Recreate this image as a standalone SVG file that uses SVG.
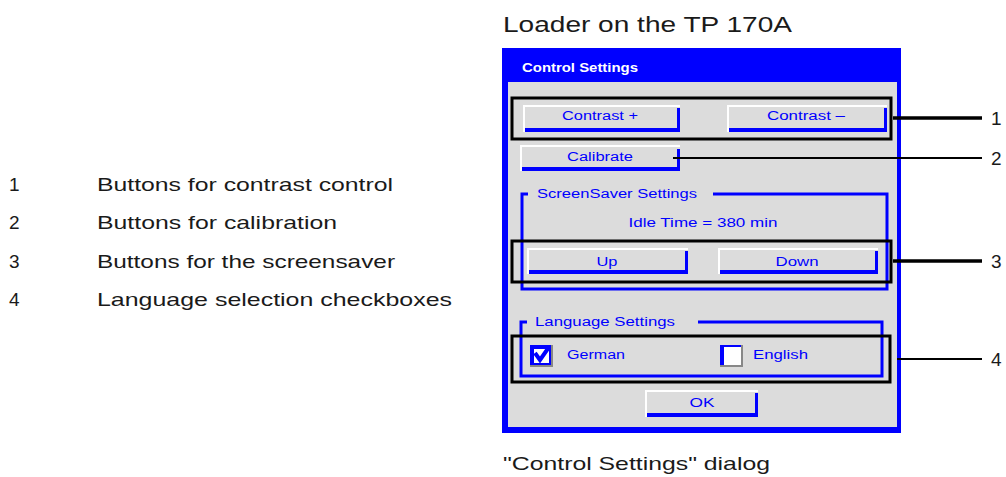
<svg xmlns="http://www.w3.org/2000/svg" width="1006" height="477" viewBox="0 0 1006 477">
<style>
.lbl{font-family:"Liberation Sans",Arial,sans-serif;fill:#1a1a1a}
.ui{font-family:"Liberation Sans",Arial,sans-serif;font-size:12px;fill:#0000ff}
.hi{fill:#ffffff}
.sh{fill:#0000ff}
.box{fill:none;stroke:#000;stroke-width:3}
.grp{fill:none;stroke:#0000ff;stroke-width:3}
.lead{stroke:#000;fill:none}
</style>
<rect width="1006" height="477" fill="#ffffff"/>
<g id="title"><text class="lbl" x="503" y="32" font-size="22" textLength="289" lengthAdjust="spacingAndGlyphs">Loader on the TP 170A</text></g>
<g id="legend">
<text class="lbl" x="9" y="191" font-size="19">1</text>
<text class="lbl" x="97" y="191" font-size="19" textLength="296" lengthAdjust="spacingAndGlyphs">Buttons for contrast control</text>
<text class="lbl" x="9" y="229" font-size="19">2</text>
<text class="lbl" x="97" y="229" font-size="19" textLength="240" lengthAdjust="spacingAndGlyphs">Buttons for calibration</text>
<text class="lbl" x="9" y="268" font-size="19">3</text>
<text class="lbl" x="97" y="268" font-size="19" textLength="298" lengthAdjust="spacingAndGlyphs">Buttons for the screensaver</text>
<text class="lbl" x="9" y="306" font-size="19">4</text>
<text class="lbl" x="97" y="306" font-size="19" textLength="355" lengthAdjust="spacingAndGlyphs">Language selection checkboxes</text>
</g>
<g id="dialog">
<rect x="502" y="48" width="399" height="385" fill="#0000ff"/>
<rect x="508" y="82" width="389" height="345" fill="#dcdcdc"/>
<text x="522" y="72" font-family="Liberation Sans,Arial,sans-serif" font-weight="bold" font-size="12" fill="#ffffff" textLength="116" lengthAdjust="spacingAndGlyphs">Control Settings</text>
</g>
<g id="btn-contrast-plus">
<rect class="hi" x="523" y="105" width="157" height="2"/><rect class="hi" x="523" y="105" width="2" height="27"/>
<rect class="sh" x="525" y="128" width="155" height="4"/><rect class="sh" x="677" y="108" width="3" height="24"/>
<text class="ui" x="600" y="120" text-anchor="middle" textLength="76" lengthAdjust="spacingAndGlyphs">Contrast +</text>
</g>
<g id="btn-contrast-minus">
<rect class="hi" x="727" y="105" width="160" height="2"/><rect class="hi" x="727" y="105" width="2" height="27"/>
<rect class="sh" x="729" y="128" width="158" height="4"/><rect class="sh" x="884" y="108" width="3" height="24"/>
<text class="ui" x="806" y="120" text-anchor="middle" textLength="78" lengthAdjust="spacingAndGlyphs">Contrast –</text>
</g>
<g id="btn-calibrate">
<rect class="hi" x="520" y="145" width="160" height="2"/><rect class="hi" x="520" y="145" width="2" height="26"/>
<rect class="sh" x="522" y="167" width="158" height="4"/><rect class="sh" x="677" y="149" width="3" height="22"/>
<text class="ui" x="600" y="161" text-anchor="middle" textLength="66" lengthAdjust="spacingAndGlyphs">Calibrate</text>
</g>
<g id="grp-screensaver">
<path class="grp" d="M528,194 H522 V289 H887 V194 H713"/>
<text class="ui" x="537" y="198" textLength="160" lengthAdjust="spacingAndGlyphs">ScreenSaver Settings</text>
<text class="ui" x="703" y="227" text-anchor="middle" textLength="149" lengthAdjust="spacingAndGlyphs">Idle Time = 380 min</text>
</g>
<g id="btn-up">
<rect class="hi" x="527" y="248" width="161" height="2"/><rect class="hi" x="527" y="248" width="2" height="26"/>
<rect class="sh" x="529" y="270" width="159" height="4"/><rect class="sh" x="685" y="251" width="3" height="23"/>
<text class="ui" x="607" y="266" text-anchor="middle" textLength="21" lengthAdjust="spacingAndGlyphs">Up</text>
</g>
<g id="btn-down">
<rect class="hi" x="718" y="248" width="160" height="2"/><rect class="hi" x="718" y="248" width="2" height="26"/>
<rect class="sh" x="720" y="270" width="158" height="4"/><rect class="sh" x="875" y="251" width="3" height="23"/>
<text class="ui" x="797" y="266" text-anchor="middle" textLength="43" lengthAdjust="spacingAndGlyphs">Down</text>
</g>
<g id="grp-language">
<path class="grp" d="M527,322 H521 V376 H882 V322 H698"/>
<text class="ui" x="535" y="326" textLength="140" lengthAdjust="spacingAndGlyphs">Language Settings</text>
</g>
<g id="chk-german">
<rect x="530" y="345" width="23" height="22" fill="#888888"/>
<rect x="530" y="345" width="21" height="20" fill="#0000ff"/>
<rect x="534" y="349" width="15" height="14" fill="#ffffff"/>
<path d="M535,353 L540,360 L549,347" fill="none" stroke="#0000ff" stroke-width="4"/>
<text class="ui" x="567" y="359" textLength="58" lengthAdjust="spacingAndGlyphs">German</text>
</g>
<g id="chk-english">
<rect x="720" y="345" width="23" height="22" fill="#888888"/>
<rect x="720" y="345" width="21" height="20" fill="#0000ff"/>
<rect x="724" y="347" width="17" height="18" fill="#ffffff"/>
<text class="ui" x="753" y="359" textLength="55" lengthAdjust="spacingAndGlyphs">English</text>
</g>
<g id="btn-ok">
<rect class="hi" x="645" y="390" width="113" height="2"/><rect class="hi" x="645" y="390" width="2" height="27"/>
<rect class="sh" x="647" y="413" width="111" height="4"/><rect class="sh" x="755" y="393" width="3" height="24"/>
<text class="ui" x="702" y="407" text-anchor="middle" textLength="25" lengthAdjust="spacingAndGlyphs">OK</text>
</g>
<g id="highlight-boxes">
<rect class="box" x="512" y="98" width="379" height="41"/>
<rect class="box" x="512" y="241" width="379" height="41"/>
<rect class="box" x="512" y="336" width="378" height="46"/>
</g>
<g id="connectors">
<line class="lead" x1="893" y1="118" x2="982" y2="118" stroke-width="3.5"/>
<line class="lead" x1="673" y1="158" x2="982" y2="158" stroke-width="2"/>
<line class="lead" x1="893" y1="261" x2="982" y2="261" stroke-width="3.5"/>
<line class="lead" x1="897" y1="359" x2="982" y2="359" stroke-width="2"/>
</g>
<g id="callouts">
<text class="lbl" x="991" y="125" font-size="19">1</text>
<text class="lbl" x="991" y="165" font-size="19">2</text>
<text class="lbl" x="991" y="268" font-size="19">3</text>
<text class="lbl" x="991" y="366" font-size="19">4</text>
</g>
<g id="caption"><text class="lbl" x="503" y="470" font-size="19" textLength="267" lengthAdjust="spacingAndGlyphs">"Control Settings" dialog</text></g>
</svg>
